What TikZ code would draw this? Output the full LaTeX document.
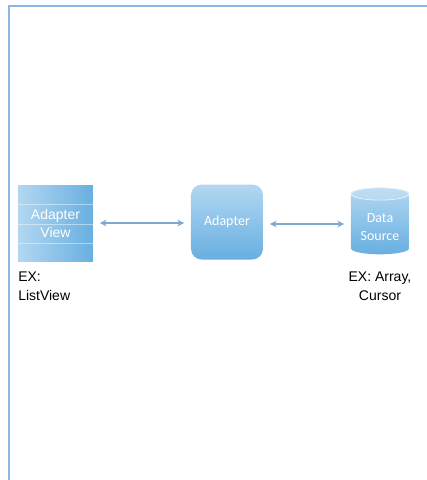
\documentclass[tikz,border=0pt]{standalone}
\usepackage{fontspec}
\setmainfont{Liberation Sans}
\newfontfamily\calibri{Carlito}
\usetikzlibrary{shapes.geometric,arrows.meta}

\definecolor{frameblue}{HTML}{8DB6E0}
\definecolor{lightbox}{HTML}{B2D7F1}
\definecolor{darkbox}{HTML}{68AFE1}
\definecolor{arrowblue}{HTML}{7DA8D2}

\tikzset{
  boxtext/.style={text=white,font=\fontsize{10.5}{13.5}\selectfont,align=center},
  link/.style={draw=arrowblue,line width=1.1pt,{Stealth[length=5pt,width=5pt]}-{Stealth[length=5pt,width=5pt]},shorten <=5pt,shorten >=5pt},
  exlabel/.style={font=\fontsize{10.5}{14.2}\selectfont,inner sep=0pt,align=left}
}

\begin{document}
\begin{tikzpicture}[x=0.75pt,y=0.75pt,yscale=-1,xscale=1]
\useasboundingbox (0,0) rectangle (427,480);

%Frame
\draw[frameblue,line width=1.1pt] (9,480) -- (9,6) -- (427,6);

%Shape: list of adapter view
\node[left color=lightbox,right color=darkbox,draw=none,minimum width=56.25pt,minimum height=57pt,inner sep=0pt,boxtext] (view) at (55.5,223) {Adapter\\View};
\foreach \yy in {204,224,243}
  \draw[white,opacity=0.45,line width=0.5pt] (18,\yy) -- (93,\yy);

%Shape: adapter
\node[top color=lightbox,bottom color=darkbox,rounded corners=8pt,minimum width=54pt,minimum height=56.25pt,inner sep=0pt,boxtext,font=\calibri\fontsize{10.5}{13}\selectfont] (adapter) at (227,222) {Adapter};

%Shape: data source
\node[cylinder,shape border rotate=90,aspect=0.3,top color=lightbox,bottom color=darkbox,minimum width=43.5pt,minimum height=50pt,inner sep=0pt,boxtext,font=\calibri\fontsize{10.5}{13.5}\selectfont] (source) at (380,224) {\\[-2pt]Data\\Source};
\draw[white,opacity=0.7,fill=lightbox!80!white,line width=0.5pt] (380,194) ellipse [x radius=21.6pt,y radius=4.6pt];

%Connectors
\draw[link] (view.east) -- (view.east -| adapter.west);
\draw[link] (adapter.east |- source.west) -- (source.west);

% Text Node
\node[exlabel,anchor=north west] (exview) at (18,272) {EX:\\ListView};
% Text Node
\node[exlabel,anchor=north,align=center] (exsource) at (380,272) {EX: Array,\\Cursor};

\end{tikzpicture}
\end{document}
